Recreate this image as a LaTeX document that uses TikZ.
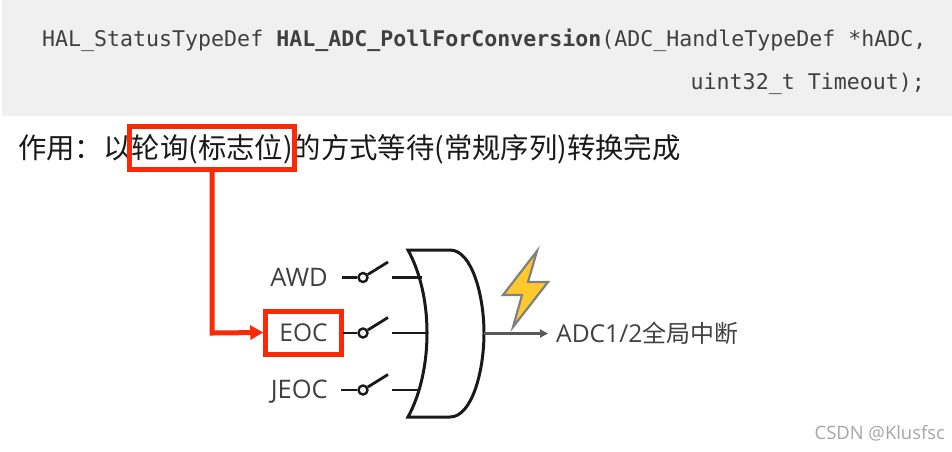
\documentclass[tikz,border=0pt]{standalone}
\usepackage{fontspec}
\setmainfont{Open Sans}
\newfontfamily\cjk{Noto Sans CJK SC}
\newfontfamily\codefont{DejaVu Sans Mono}
\usetikzlibrary{arrows.meta}
\definecolor{redc}{HTML}{FA2A08}
\definecolor{graybg}{HTML}{F0F0F0}
\definecolor{txt}{HTML}{404040}
\definecolor{boltc}{HTML}{FFC82C}
\tikzset{
  code/.style={inner sep=0pt,anchor=base west,text=txt,font=\codefont\fontsize{21.6}{24}\selectfont},
  lbl/.style={inner sep=0pt,anchor=base east,text=txt,font=\fontsize{25.5}{28}\selectfont},
  wire/.style={line width=2.8pt,black!90},
  pivot/.style={circle,draw=black!90,line width=2.4pt,fill=white,minimum size=9pt,inner sep=0pt},
  redbox/.style={draw=redc,line width=5pt,fill=none,inner sep=0pt,rectangle},
}
\begin{document}
\begin{tikzpicture}[x=1pt,y=-1pt]
\useasboundingbox (0,0) rectangle (952,451);
\fill[graybg] (2,0) rectangle (952,116);
\node[code] (c1) at (42,46) {HAL\_StatusTypeDef \textbf{HAL\_ADC\_PollForConversion}(ADC\_HandleTypeDef *hADC,};
\node[code,anchor=base east] (c2) at (925,89) {uint32\_t Timeout);};
\node[inner sep=0pt,anchor=base west,text=black!90,font=\cjk\fontsize{28.37}{32}\selectfont] (title) at (18,158) {作用：以轮询(标志位)的方式等待(常规序列)转换完成};
\node[redbox,minimum width=165pt,minimum height=43pt] (pollbox) at (212,148) {};

% labels
\node[lbl] (awd) at (328,286) {AWD};
\node[lbl] (jeoc) at (328,398) {JEOC};
\node[lbl,anchor=center,redbox,text=txt,fill=white,minimum width=75.5pt,minimum height=43pt,font=\fontsize{24.5}{28}\selectfont] (eoc) at (303.5,332.5) {EOC};

% switches
\foreach \n/\y/\e in {a/277.5/422,b/333/426.5,c/390/418}{
  \node[pivot] (p\n) at (363,\y) {};
  \coordinate (t\n) at (388,\y-15.5);
  \coordinate (s\n) at (392,\y);
  \coordinate (g\n) at (\e,\y);
  \draw[wire] (s\n) -- (g\n);
  \draw[wire] (p\n) -- (t\n);
}
\coordinate (la) at (342,277.5);
\coordinate (lc) at (341,390);
\draw[wire] (la) -- (pa);
\draw[wire] (eoc) ++(39,0.5) coordinate (lb) -- (pb);
\draw[wire] (lc) -- (pc);

% OR gate
\draw[line width=3pt,black!90,line join=miter] (408,250) -- (450,250)
  .. controls (472,250) and (484,296) .. (484,333)
  .. controls (484,371) and (472,417) .. (450,417)
  -- (408,417)
  .. controls (420,395) and (427,365) .. (427,333)
  .. controls (427,301) and (420,272) .. (408,250) -- cycle;
\coordinate (gout) at (484,333.5);
\coordinate (gend) at (548,333.5);
\draw[line width=2.4pt,black!65,-{Triangle[length=8pt,width=8pt]}] (gout) -- (gend);
\node[inner sep=0pt,anchor=base west,text=txt,font=\fontsize{24.6}{28}\selectfont] (out) at (556,342) {ADC1/2{\cjk\fontsize{24}{28}\selectfont 全局中断}};

% bolt
\draw[fill=boltc,draw=black!50,line width=2.2pt,line join=miter]
 (537,251) -- (528,282) -- (548,282) -- (513,327) -- (522,295) -- (503,295) -- cycle;

% red connector
\draw[redc,line width=5pt,-{Triangle[length=13pt,width=14pt]}] (pollbox.south) -- (212,333) -- (eoc.west);

\node[inner sep=0pt,anchor=base east,text=black!35,font=\fontsize{18.4}{20}\selectfont] (wm) at (945,439) {CSDN @Klusfsc};
\end{tikzpicture}
\end{document}
